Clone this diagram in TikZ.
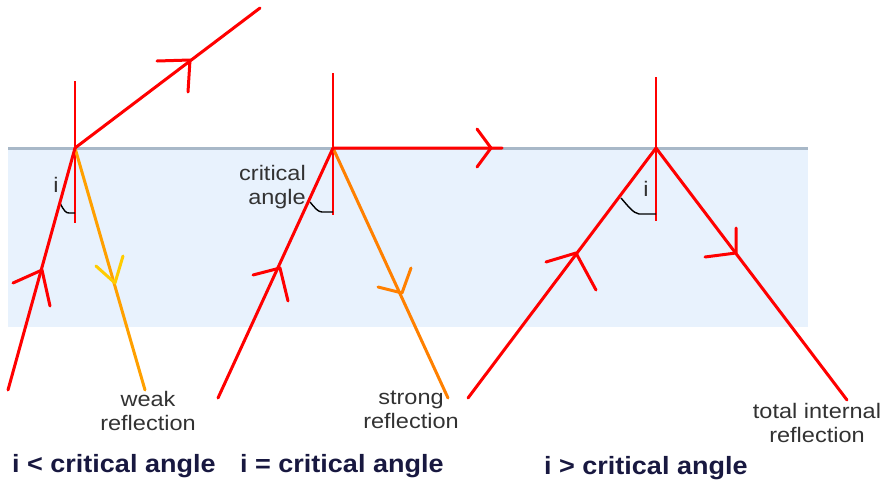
\documentclass[tikz,border=0pt]{standalone}
\usepackage{fontspec}
\setmainfont{Liberation Sans}
\newfontfamily\lblfont[FakeStretch=1.12]{Liberation Sans}
\newfontfamily\ttlfont[FakeStretch=1.08]{Liberation Sans}
\definecolor{water}{RGB}{232,242,253}
\definecolor{surface}{RGB}{168,184,200}
\definecolor{weakor}{RGB}{255,160,0}
\definecolor{weakhd}{RGB}{255,204,0}
\definecolor{strongor}{RGB}{255,128,0}
\definecolor{lblgray}{RGB}{50,50,50}
\definecolor{ttl}{RGB}{24,24,64}
\tikzset{
  ray/.style={line width=3pt, line cap=round, line join=round},
  normalline/.style={red, line width=1.5pt},
  anglearc/.style={black, line width=1.4pt},
  lbl/.style={font=\lblfont\fontsize{21}{24}\selectfont, text=lblgray, align=center, inner sep=0pt},
  ttlstyle/.style={font=\ttlfont\bfseries\fontsize{25}{28}\selectfont, text=ttl, inner sep=0pt, anchor=west},
}
\begin{document}
\begin{tikzpicture}[x=1pt,y=-1pt]
\useasboundingbox (0,0) rectangle (885,482);
% water
\fill[water] (8,148) rectangle (808,327);
\draw[surface, line width=3pt] (8,148) -- (808,148);

% ---------- panel 1 ----------
\coordinate (p1) at (75,148);
\coordinate (n1t) at (75,81);
\coordinate (n1b) at (75,223);
\coordinate (in1) at (8,390);
\coordinate (out1) at (260,8);
\coordinate (wr1) at (145,390);
\draw[normalline] (n1t) -- (n1b);
\draw[anglearc] (60,203) .. controls (64,211) and (66,213) .. (69,213) -- (75,213);
\node[lbl] (i1) at (56,185) {i};
\draw[weakor, ray] (p1) -- (wr1);
\draw[red, ray] (in1) -- (p1) -- (out1);
% arrowheads
\coordinate (a1t) at (42,270);
\draw[red, ray] (13,283) -- (a1t) -- (50,306);
\coordinate (a2t) at (190,60);
\draw[red, ray] (157,61) -- (a2t) -- (188,92);
\coordinate (a3t) at (115,283);
\draw[weakhd, ray] (96,266) -- (a3t) -- (123,256);
\node[lbl] (weak) at (148,411) {weak\\reflection};
\node[ttlstyle] (t1) at (12,466) {i < critical angle};

% ---------- panel 2 ----------
\coordinate (p2) at (333,148);
\coordinate (n2t) at (333,73);
\coordinate (n2b) at (333,215);
\coordinate (in2) at (218,398);
\coordinate (hz2) at (502,148);
\coordinate (sr2) at (448,398);
\draw[normalline] (n2t) -- (n2b);
\draw[anglearc] (310,202) .. controls (315,208) and (318,212) .. (322,212) -- (333,212);
\node[lbl, anchor=east, align=right] (crit) at (306,187) {critical\\angle};
\draw[strongor, ray] (p2) -- (sr2);
\draw[red, ray] (in2) -- (p2) -- (hz2);
\coordinate (b1t) at (280,268);
\draw[red, ray] (253,275) -- (b1t) -- (288,301);
\coordinate (b2t) at (491,148);
\draw[red, ray] (477,129) -- (b2t) -- (477,167);
\coordinate (b3t) at (402,293);
\draw[strongor, ray] (378,287) -- (b3t) -- (411,268);
\node[lbl] (strong) at (411,410) {strong\\reflection};
\node[ttlstyle] (t2) at (240,466) {i = critical angle};

% ---------- panel 3 ----------
\coordinate (p3) at (656,148);
\coordinate (n3t) at (656,77);
\coordinate (n3b) at (656,221);
\coordinate (in3) at (468,398);
\coordinate (tr3) at (847,400);
\draw[normalline] (n3t) -- (n3b);
\draw[anglearc] (621,198) .. controls (628,206) and (633,213) .. (639,214) -- (656,214);
\node[lbl] (i3) at (646,189) {i};
\draw[red, ray] (in3) -- (p3) -- (tr3);
\coordinate (c1t) at (576,253);
\draw[red, ray] (546,262) -- (c1t) -- (596,290);
\coordinate (c2t) at (736,253);
\draw[red, ray] (705,257) -- (c2t) -- (736,228);
\node[lbl] (tir) at (817,423) {total internal\\reflection};
\node[ttlstyle] (t3) at (544,468) {i > critical angle};
\end{tikzpicture}
\end{document}
